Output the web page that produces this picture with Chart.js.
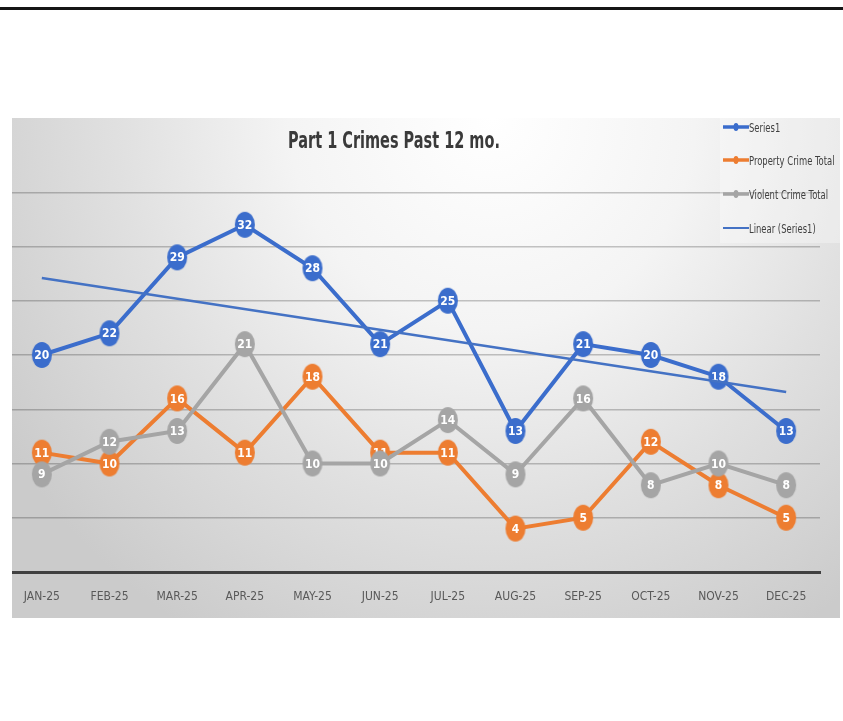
<!DOCTYPE html>
<html><head><meta charset="utf-8">
<script src="https://cdn.jsdelivr.net/npm/chart.js@4/dist/chart.umd.min.js"></script>
<style>
html,body{margin:0;padding:0;background:#fff;width:843px;height:721px;overflow:hidden;}
body{font-family:"Liberation Sans Narrow","DejaVu Sans Condensed","Liberation Sans",sans-serif;}
#topline{position:absolute;left:0;top:7px;width:843px;height:3px;background:#151515;}
#bg{position:absolute;left:12px;top:118px;width:828px;height:500px;
 background:radial-gradient(ellipse 70% 120% at 58% 0%, #ffffff 0%, #f4f4f4 35%, #e0e0e0 65%, #cbcbcb 100%);}
#wrap{position:absolute;left:0;top:0;width:843px;height:721px;}
#mask{position:absolute;left:0;top:118px;width:12px;height:500px;background:#fff;}
#title{position:absolute;left:144px;width:500px;top:127px;text-align:center;font-weight:bold;font-size:23px;color:#3a3a3a;transform:scaleX(0.7);transform-origin:50% 50%;}
#legend{position:absolute;left:720px;top:116px;width:120px;height:127px;background:rgba(255,255,255,0.3);}
.li{position:absolute;left:3px;height:20px;display:flex;align-items:center;font-size:13px;color:#404040;white-space:nowrap;}
.li span{display:inline-block;transform:scaleX(0.72);transform-origin:0 50%;}
</style></head>
<body>
<div id="topline"></div>
<div id="bg"></div>
<div id="wrap"><canvas id="c"></canvas></div>
<div id="mask"></div>
<div id="title">Part 1 Crimes Past 12 mo.</div>
<div id="legend"></div>
<script>
const months = ["JAN-25","FEB-25","MAR-25","APR-25","MAY-25","JUN-25","JUL-25","AUG-25","SEP-25","OCT-25","NOV-25","DEC-25"];
const series1 = [20,22,29,32,28,21,25,13,21,20,18,13];
const propertyCrime = [11,10,16,11,18,11,11,4,5,12,8,5];
const violentCrime = [9,12,13,21,10,10,14,9,16,8,10,8];
const linearSeries1 = [27.1,null,null,null,null,null,null,null,null,null,null,16.6];
const seriesNames = ["Series1","Property Crime Total","Violent Crime Total","Linear (Series1)"];

const BLUE = "#3b6dcc", ORANGE = "#ed7d31", GRAY = "#a5a5a5", TREND = "#4472c4";
const FONT = '"Liberation Sans Narrow","DejaVu Sans Condensed","Liberation Sans",sans-serif';

function marker(color){
  const c = document.createElement("canvas");
  c.width = 22; c.height = 28;
  const g = c.getContext("2d");
  g.fillStyle = color;
  g.beginPath(); g.ellipse(11,14,10,13,0,0,Math.PI*2); g.fill();
  return c;
}

const valueLabels = {
  id:"valueLabels",
  afterDatasetDraw(chart,args){
    const ds = chart.data.datasets[args.index];
    if(!ds.showValues) return;
    const ctx = chart.ctx;
    ctx.save();
    ctx.font = "bold 12px " + FONT;
    ctx.fillStyle = "#ffffff";
    ctx.textAlign = "center"; ctx.textBaseline = "middle";
    args.meta.data.forEach((el,i)=>{ ctx.fillText(String(ds.data[i]), el.x, el.y+1); });
    ctx.restore();
  }
};

function lineDs(label,data,color,order){
  return {label,data,borderColor:color,backgroundColor:color,borderWidth:4,
    pointStyle:marker(color),pointRadius:10,pointHoverRadius:10,tension:0,order,showValues:true};
}

new Chart(document.getElementById("c"),{
  type:"line",
  data:{labels:months,datasets:[
    lineDs(seriesNames[0],series1,BLUE,3),
    lineDs(seriesNames[1],propertyCrime,ORANGE,2),
    lineDs(seriesNames[2],violentCrime,GRAY,1),
    {label:seriesNames[3],data:linearSeries1,borderColor:TREND,borderWidth:2.5,pointRadius:0,spanGaps:true,order:2.5,tension:0}
  ]},
  options:{
    responsive:true,maintainAspectRatio:false,animation:false,
    layout:{autoPadding:false,padding:{left:8,right:23,top:138,bottom:109}},
    plugins:{legend:{display:false},title:{display:false},tooltip:{enabled:false}},
    scales:{
      x:{offset:true,grid:{display:false,drawTicks:false},
         border:{display:true,color:"#404040",width:3},
         ticks:{padding:18,color:"#595959",font:{family:FONT,size:12}},
         afterFit(s){s.height=40;s.paddingLeft=0;s.paddingRight=0;}},
      y:{min:0,max:40,
         ticks:{display:false,stepSize:5},
         border:{display:false},
         grid:{drawTicks:false,lineWidth:1.5,color:(c)=>c.tick && (c.tick.value===40||c.tick.value===0)?"rgba(0,0,0,0)":"rgba(0,0,0,0.22)"},
         afterFit(s){s.width=0;s.paddingTop=0;s.paddingBottom=0;}}
    }
  },
  plugins:[valueLabels]
});

// legend
const legendEl = document.getElementById("legend");
const legendColors = [BLUE,ORANGE,GRAY,TREND];
const legendTops = [1,34,68,102];
seriesNames.forEach((name,i)=>{
  const d = document.createElement("div");
  d.className = "li"; d.style.top = legendTops[i]+"px";
  const isTrend = i===3;
  d.innerHTML = '<svg width="26" height="12" style="flex:none"><line x1="0" y1="6" x2="26" y2="6" stroke="'+legendColors[i]+'" stroke-width="'+(isTrend?2:3.5)+'"/>'+
    (isTrend?'':'<ellipse cx="13" cy="6" rx="2.5" ry="4" fill="'+legendColors[i]+'"/>')+'</svg><span>'+name+'</span>';
  legendEl.appendChild(d);
});
</script>
</body></html>
